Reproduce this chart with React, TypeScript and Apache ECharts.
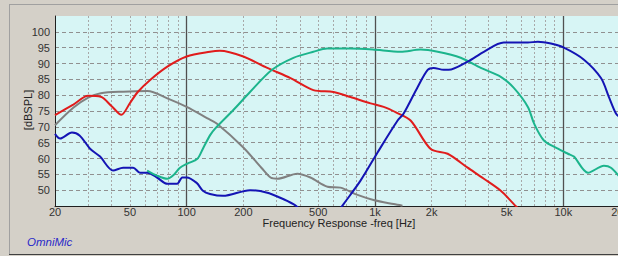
import React, { useEffect, useRef } from "react";
import * as echarts from "echarts";

const FREQ_LABELS = [20, 50, 100, 200, 500, 1000, 2000, 5000, 10000, 20000];
const MINOR_LINES = [30, 40, 50, 60, 70, 80, 90, 200, 300, 400, 500, 600, 700, 800, 900, 2000, 3000, 4000, 5000, 6000, 7000, 8000, 9000];
const MAJOR_LINES = [100, 1000, 10000];
const DB_TICKS = [50, 55, 60, 65, 70, 75, 80, 85, 90, 95, 100];

const redCurve = [[20,73.7],[25,77],[30,79.8],[35,79.5],[40,76.5],[45,73.8],[50,77.5],[55,81],[64,84.8],[79,89],[100,92.2],[133,93.7],[150,94],[200,92.2],[268,88.6],[356,85.4],[471,81.6],[602,81],[741,79.4],[948,77.4],[1112,76.3],[1300,74.5],[1546,72],[1976,63],[2432,61.5],[3105,57.1],[3785,53.6],[4657,49.8],[5460,45.6],[5700,44.5]];
const grayCurve = [[20,70.5],[25,76],[30,79.2],[35,80.6],[46,81.1],[62,81.3],[79,79],[100,76.3],[129,72.7],[145,71],[200,63.5],[250,57],[279,54],[303,53.6],[387,55.2],[454,54],[560,51.1],[656,50.8],[808,48.5],[982,46.9],[1256,45.6],[1400,45.1]];
const blueLowCurve = [[20,67.8],[21.3,66.3],[24.6,68.2],[27,67.3],[30.7,63.1],[34.7,60.6],[40.7,56.2],[46,57.1],[52,57.1],[56.6,55.5],[61.7,55.5],[69.6,54],[79,52],[89,52],[94.8,54],[100,54],[113,52.3],[122,49.8],[133,48.8],[156,48.2],[217,50],[268,49.2],[314,47.6],[369,45.6],[390,44.5]];
const greenCurve = [[61.7,56.2],[69.6,54.6],[79,53.6],[84.6,54.6],[92.2,57.1],[101,58.4],[114,59.9],[122,63.1],[133,67.3],[142,69.5],[177,75.3],[217,81],[284,88],[369,91.8],[471,93.7],[557,94.7],[741,94.7],[972,94.4],[1368,93.7],[1747,94.4],[2153,93.7],[2852,91.8],[3646,88.6],[4657,85.8],[5460,82.3],[6485,76.3],[7000,71],[7888,65.7],[9360,63.1],[10580,61.5],[11380,60.6],[13520,55.5],[16440,57.7],[17900,57.1],[20000,54]];
const blueHighCurve = [[650,44],[681,45.6],[838,53],[1032,61.9],[1319,72],[1420,74.2],[1686,82.6],[1905,88],[2050,88.6],[2318,88],[2460,88],[3105,90.6],[3785,93.7],[4830,96.6],[6485,96.6],[7330,96.9],[8590,96.3],[10070,95],[12870,91.2],[15850,85.4],[17470,79.4],[19040,74.2],[20000,73]];

const fmtFreq = (v: number) => (v >= 1000 ? `${Math.round(v / 1000)}k` : `${Math.round(v)}`);

export default function App() {
  const ref = useRef<HTMLDivElement>(null);
  useEffect(() => {
    if (!ref.current) return;
    const chart = echarts.init(ref.current, undefined, { renderer: "svg" });
    const font = "'Liberation Sans', Arial, sans-serif";
    const mk = (data: number[][], color: string) => ({
      type: "line",
      data,
      showSymbol: false,
      smooth: 0.3,
      clip: true,
      lineStyle: { color, width: 2 },
      itemStyle: { color },
      z: 5,
    });
    chart.setOption({
      animation: false,
      backgroundColor: "#d4d0c8",
      grid: { left: 55, top: 16, width: 565, height: 190, show: true, backgroundColor: "#d7f5f5", borderWidth: 0, containLabel: false, outerBoundsMode: "none" },
      xAxis: [
        {
          type: "log", logBase: 10, min: 20, max: 20000,
          axisLine: { show: true, onZero: false, lineStyle: { color: "#202020", width: 1 } },
          axisTick: { show: false, customValues: MINOR_LINES },
          axisLabel: { customValues: FREQ_LABELS, formatter: fmtFreq, color: "#333", fontSize: 11, fontFamily: font, margin: 0 },
          splitLine: { show: true, lineStyle: { color: "#a8a8a8", type: [2, 2], width: 1 } },
        },
        {
          type: "log", logBase: 10, min: 20, max: 20000,
          axisLine: { show: false },
          axisTick: { show: false, customValues: MAJOR_LINES },
          axisLabel: { show: false },
          splitLine: { show: true, lineStyle: { color: "#505050", type: "solid", width: 1.3 } },
        },
      ],
      yAxis: {
        type: "value", min: 45, max: 105,
        axisLine: { show: true, lineStyle: { color: "#202020", width: 1 } },
        axisTick: { show: false, customValues: DB_TICKS },
        axisLabel: { customValues: DB_TICKS, color: "#333", fontSize: 11, fontFamily: font, margin: 5 },
        splitLine: { show: true, lineStyle: { color: "#909090", type: [4, 3], width: 1 } },
      },
      series: [
        mk(grayCurve, "#808080"),
        mk(blueLowCurve, "#1414b4"),
        mk(redCurve, "#e01c1c"),
        mk(greenCurve, "#1cb48c"),
        mk(blueHighCurve, "#1414b4"),
      ],
      graphic: [
        { type: "line", shape: { x1: 9, y1: 4.5, x2: 618, y2: 4.5 }, style: { stroke: "#a0a0a0", lineWidth: 1 } },
        { type: "line", shape: { x1: 9.5, y1: 4, x2: 9.5, y2: 254 }, style: { stroke: "#a0a0a0", lineWidth: 1 } },
        { type: "line", shape: { x1: 9, y1: 254.5, x2: 618, y2: 254.5 }, style: { stroke: "#404040", lineWidth: 1 } },
        { type: "text", x: 339, y: 223, style: { text: "Frequency Response -freq [Hz]", fill: "#222", font: `11px ${font}`, textAlign: "center", textVerticalAlign: "middle" } },
        { type: "text", x: 28, y: 110, rotation: Math.PI / 2, style: { text: "[dBSPL]", fill: "#222", font: `11px ${font}`, textAlign: "center", textVerticalAlign: "middle" } },
        { type: "text", x: 27, y: 242, style: { text: "OmniMic", fill: "#2a2ac8", font: `italic 11.5px ${font}`, textAlign: "left", textVerticalAlign: "middle" } },
      ],
    });
    return () => chart.dispose();
  }, []);
  return <div ref={ref} style={{ position: "fixed", left: 0, top: 0, width: 618, height: 256 }} />;
}
